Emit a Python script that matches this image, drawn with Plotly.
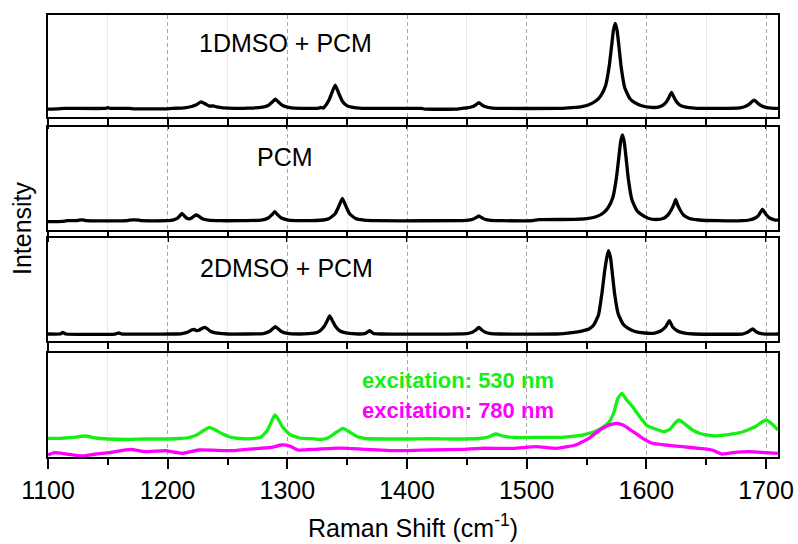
import plotly.graph_objects as go

# ---------------- data (a.u.) ----------------
shift_1dmso = [1100, 1108, 1114, 1148, 1150, 1152, 1168, 1172, 1198, 1204, 1214, 1220, 1224, 1228, 1232,
               1235, 1238, 1241, 1246, 1256, 1278, 1284, 1287, 1290, 1293, 1296, 1302, 1312, 1326, 1328,
               1330, 1332, 1335, 1337, 1340, 1343, 1346, 1350, 1356, 1366, 1412, 1415, 1442, 1446, 1450,
               1455, 1457.5, 1460, 1462.5, 1465, 1470, 1478, 1528, 1538, 1546, 1552, 1558, 1562, 1566, 1569,
               1571, 1572.5, 1574, 1575.5, 1577, 1579, 1582, 1586, 1590, 1596, 1604, 1610, 1614, 1617, 1619,
               1621, 1623, 1625, 1628, 1633, 1640, 1660, 1678, 1683, 1686, 1690, 1694, 1697, 1702, 1710]
int_1dmso = [8.0, 8.2, 8.7, 8.7, 9.4, 8.7, 8.7, 8.2, 8.2, 8.7, 9.3, 10.6, 12.3, 15.3, 12.8,
             11.0, 11.2, 10.2, 9.2, 8.7, 9.6, 11.6, 14.6, 18.0, 14.6, 11.6, 9.4, 8.7, 9.0, 9.6,
             9.0, 11.5, 17.5, 23.6, 32.0, 23.6, 15.9, 11.2, 9.5, 8.7, 8.7, 8.0, 8.0, 8.7, 9.2,
             10.6, 12.3, 14.4, 12.3, 10.6, 9.2, 8.7, 8.7, 9.5, 10.5, 12.4, 16.3, 21.5, 31.6, 51.2,
             71.6, 86.9, 93.7, 86.9, 71.6, 49.5, 29.1, 18.9, 14.7, 11.3, 9.7, 10.0, 12.0, 15.5, 20.0,
             24.7, 20.0, 15.5, 12.0, 10.0, 9.0, 8.7, 9.2, 10.8, 13.0, 17.0, 13.0, 10.8, 9.3, 8.7]

shift_pcm = [1100, 1112, 1116, 1124, 1126, 1130, 1132, 1166, 1168, 1176, 1178, 1200, 1205, 1208, 1210,
             1212, 1214, 1216, 1218, 1220, 1222, 1224, 1226, 1229, 1234, 1244, 1278, 1284, 1287, 1289.5,
             1292, 1295, 1301, 1310, 1330, 1335, 1340, 1343, 1346, 1349, 1352, 1357, 1364, 1375, 1450,
             1455, 1457.5, 1460, 1462.5, 1465, 1470, 1480, 1505, 1510, 1540, 1550, 1558, 1564, 1568, 1572,
             1575, 1577, 1578.5, 1580, 1581.5, 1583, 1585, 1588, 1592, 1596, 1602, 1608, 1614, 1618, 1621,
             1623, 1624.5, 1626, 1628, 1631, 1636, 1644, 1660, 1680, 1686, 1691, 1694, 1697, 1700, 1703,
             1707, 1710]
int_pcm = [8.3, 8.6, 9.3, 9.3, 9.9, 9.9, 9.3, 9.3, 9.9, 9.9, 9.3, 9.3, 10.2, 11.6, 14.0,
           16.6, 14.0, 11.8, 11.2, 12.0, 13.8, 15.0, 13.8, 11.3, 9.9, 9.3, 9.8, 12.0, 15.1, 18.3,
           15.1, 12.0, 9.8, 9.3, 10.0, 11.5, 16.2, 23.6, 31.6, 23.6, 16.2, 11.5, 9.9, 9.3, 9.6,
           10.7, 12.3, 14.0, 12.3, 10.7, 9.6, 9.3, 9.3, 10.3, 10.6, 11.3, 13.2, 17.0, 22.2, 32.4,
           52.2, 72.7, 88.1, 95.0, 88.1, 72.7, 50.4, 29.9, 19.6, 15.3, 11.5, 10.5, 11.5, 15.0, 20.5,
           25.5, 30.6, 25.5, 20.5, 15.0, 11.5, 10.0, 9.3, 9.3, 10.0, 12.0, 15.0, 20.6, 15.5, 12.0,
           10.2, 9.8]

shift_2dmso = [1100, 1110, 1112.5, 1115, 1156, 1159, 1162, 1205, 1212, 1217, 1220, 1222, 1224, 1226, 1229,
               1231, 1233, 1236, 1242, 1250, 1280, 1285, 1288, 1290, 1292, 1295, 1300, 1310, 1322, 1327,
               1331, 1333, 1335.4, 1338, 1340, 1344, 1350, 1360, 1365, 1368.8, 1372, 1378, 1450, 1455, 1457.5,
               1460, 1462.5, 1465, 1470, 1478, 1525, 1538, 1546, 1552, 1556, 1560, 1563, 1565, 1567, 1568.3,
               1570, 1571.5, 1573.5, 1576.5, 1580.5, 1584.5, 1590.5, 1598.5, 1607, 1612, 1616, 1619.2, 1622, 1626, 1632,
               1640, 1680, 1684, 1688.8, 1692, 1697, 1710]
int_2dmso = [7.0, 7.0, 8.5, 7.0, 7.0, 8.0, 7.0, 7.0, 7.5, 9.0, 11.0, 11.7, 10.5, 10.8, 12.8,
             13.7, 12.5, 9.5, 7.8, 7.0, 7.5, 9.5, 12.5, 14.3, 12.5, 9.5, 7.6, 7.0, 7.8, 10.0,
             15.0, 19.5, 25.0, 19.5, 15.0, 10.0, 7.8, 7.0, 7.5, 10.3, 7.5, 7.0, 7.3, 9.0, 11.0,
             13.7, 11.0, 9.0, 7.3, 7.0, 7.0, 8.5, 10.0, 12.0, 16.0, 26.0, 48.7, 68.6, 83.6, 90.3,
             83.6, 68.6, 47.0, 27.0, 17.0, 12.8, 9.5, 8.0, 8.0, 10.0, 14.0, 20.3, 14.0, 10.0, 7.8,
             7.0, 7.0, 8.5, 12.0, 9.0, 7.2, 7.0]

shift_530 = [1100, 1110, 1120, 1131, 1140, 1150, 1165, 1180, 1200, 1210, 1218, 1225, 1230, 1235, 1240,
             1246, 1252, 1260, 1270, 1278, 1283, 1287, 1289.5, 1292, 1296, 1302, 1310, 1320, 1327, 1334,
             1340, 1346.5, 1352, 1358, 1365, 1380, 1400, 1420, 1440, 1460, 1468, 1474, 1480, 1490, 1510,
             1530, 1545, 1550, 1556, 1561, 1566, 1569, 1573, 1576, 1579.6, 1583, 1588.5, 1594, 1600, 1608,
             1615, 1620, 1624, 1627.5, 1631, 1638.6, 1645, 1650, 1658, 1665, 1672, 1680, 1686, 1692, 1696,
             1700, 1705, 1710]
int_530 = [18.7, 18.7, 19.5, 21.0, 19.0, 18.0, 17.5, 18.0, 18.0, 18.5, 19.5, 22.5, 26.5, 29.7, 27.0,
           23.0, 20.0, 18.5, 18.3, 20.0, 26.0, 36.0, 42.0, 38.5, 30.0, 22.5, 19.0, 18.3, 17.5, 19.0,
           24.0, 28.7, 25.0, 20.5, 18.5, 18.0, 18.0, 18.3, 18.0, 18.5, 20.0, 23.0, 21.0, 19.5, 19.7,
           19.7, 21.5, 23.0, 25.0, 27.7, 32.0, 35.3, 45.0, 58.0, 63.7, 58.0, 50.3, 41.0, 32.0, 27.7,
           25.3, 28.0, 34.0, 37.0, 34.0, 27.0, 23.5, 22.0, 21.0, 21.8, 23.0, 25.0, 27.7, 31.0, 34.5,
           37.0, 33.0, 27.0]

shift_780 = [1100, 1105.6, 1115, 1129, 1140, 1151, 1169, 1181, 1198, 1212, 1226, 1254, 1276, 1287, 1295,
             1302, 1309, 1323, 1337, 1351, 1365, 1393, 1419, 1447, 1461, 1489, 1508, 1525, 1541, 1552,
             1561, 1569, 1575, 1580.5, 1586, 1597, 1605, 1616, 1630, 1644, 1655, 1663, 1672, 1686, 1700,
             1710]
int_780 = [2.0, 4.3, 3.0, 1.0, 3.0, 4.3, 7.7, 5.3, 6.3, 3.7, 7.0, 6.3, 8.7, 9.7, 12.0,
           11.0, 7.0, 7.7, 8.7, 8.7, 7.7, 6.3, 7.0, 7.7, 8.7, 8.7, 10.3, 8.7, 12.0, 18.7,
           27.0, 32.0, 33.7, 32.0, 27.7, 18.7, 13.7, 12.0, 10.3, 8.7, 7.0, 3.0, 4.3, 5.3, 4.3,
           3.7]

panel_labels = ["1DMSO + PCM", "PCM", "2DMSO + PCM"]
legend_labels = ["excitation: 530 nm", "excitation: 780 nm"]
x_title = "Raman Shift (cm<sup>-1</sup>)"
y_title = "Intensity"
x_range = [1100, 1710]
y_ranges = [[0, 102], [0, 103], [0, 103], [0, 104]]

# ---------------- style ----------------
FONT = "Liberation Sans, Arial, sans-serif"
GREEN = "#14ef14"
MAGENTA = "#ff00ff"
domains = [[0.769, 1.0], [0.5136, 0.7466], [0.2624, 0.4955], [0.0, 0.2353]]

fig = go.Figure()
series = [(shift_1dmso, int_1dmso, "black", 1), (shift_pcm, int_pcm, "black", 2),
          (shift_2dmso, int_2dmso, "black", 3), (shift_530, int_530, GREEN, 4),
          (shift_780, int_780, MAGENTA, 4)]
for xs, ys, col, k in series:
    fig.add_trace(go.Scatter(x=xs, y=ys, mode="lines",
                             line=dict(color=col, width=3.3, shape="spline", smoothing=0.4),
                             xaxis="x" if k == 1 else f"x{k}", yaxis="y" if k == 1 else f"y{k}",
                             showlegend=False, hoverinfo="skip"))

layout = dict(width=798, height=544, margin=dict(l=48, r=20, t=15, b=87),
              plot_bgcolor="white", paper_bgcolor="white",
              font=dict(family=FONT, size=25, color="black"), showlegend=False)
for k in range(1, 5):
    xa = "xaxis" if k == 1 else f"xaxis{k}"
    ya = "yaxis" if k == 1 else f"yaxis{k}"
    layout[xa] = dict(range=x_range, domain=[0, 1], anchor="y" if k == 1 else f"y{k}",
                      matches=None if k == 1 else "x", automargin=False,
                      showline=True, linecolor="black", linewidth=1.6, mirror=True,
                      ticks="outside", ticklen=10, tickwidth=1.6, tickcolor="black",
                      tick0=1100, dtick=100, showticklabels=(k == 4),
                      tickfont=dict(size=25, family=FONT, color="black"),
                      showgrid=True, gridcolor="#a6a6a6", griddash="4px,3px", gridwidth=1,
                      zeroline=False,
                      minor=dict(tick0=1150, dtick=100, ticks="outside", ticklen=6, tickwidth=1.6,
                                 tickcolor="black", showgrid=True, gridcolor="#d4d4d4",
                                 griddash="1px,1px", gridwidth=1))
    layout[ya] = dict(range=y_ranges[k - 1], domain=domains[k - 1], automargin=False,
                      anchor="x" if k == 1 else f"x{k}",
                      showline=True, linecolor="black", linewidth=1.6, mirror=True,
                      ticks="", showticklabels=False, showgrid=False, zeroline=False)
fig.update_layout(**layout)

# panel labels
label_pos = [(1298.7, 0.725), (1297.8, 0.709), (1299.5, 0.709)]
for i, (txt, (xv, yv)) in enumerate(zip(panel_labels, label_pos)):
    k = i + 1
    fig.add_annotation(text=txt, x=xv, y=yv, xref="x" if k == 1 else f"x{k}",
                       yref="y domain" if k == 1 else f"y{k} domain",
                       xanchor="center", yanchor="middle",
                       showarrow=False, font=dict(size=25, family=FONT, color="black"))

fig.add_annotation(text=f"<b>{legend_labels[0]}</b>", x=1360.4, y=0.74, xref="x4", yref="y4 domain",
                   xanchor="left", yanchor="middle", showarrow=False,
                   font=dict(size=22, family=FONT, color=GREEN))
fig.add_annotation(text=f"<b>{legend_labels[1]}</b>", x=1360.4, y=0.45, xref="x4", yref="y4 domain",
                   xanchor="left", yanchor="middle", showarrow=False,
                   font=dict(size=22, family=FONT, color=MAGENTA))

# axis titles
fig.add_annotation(text=x_title, x=0.5, y=-0.157, xref="paper", yref="paper",
                   xanchor="center", yanchor="middle", showarrow=False,
                   font=dict(size=25, family=FONT, color="black"))
fig.add_annotation(text=y_title, x=-0.0356, y=0.518, xref="paper", yref="paper",
                   xanchor="center", yanchor="middle",
                   textangle=-90, showarrow=False, font=dict(size=25, family=FONT, color="black"))

fig.write_html("out.html")
